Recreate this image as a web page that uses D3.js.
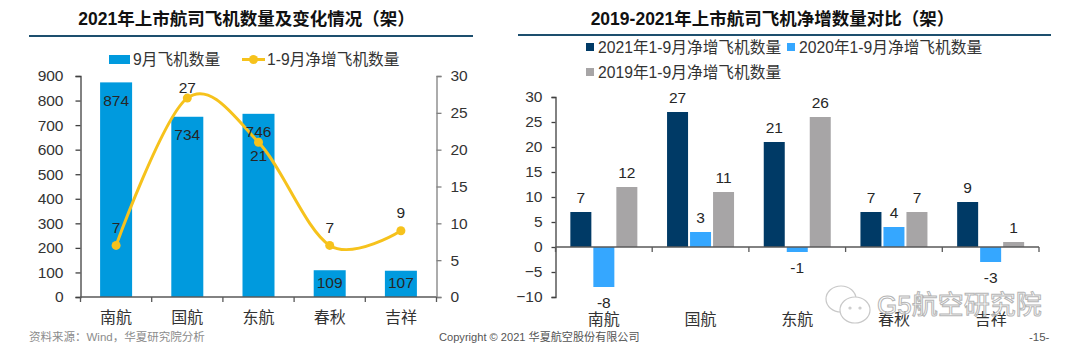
<!DOCTYPE html>
<meta charset="utf-8">
<html>
<head>
<style>
    body { margin: 0; background: #fff; }
    svg { display: block; }
    text { font-family: "Liberation Sans", "Noto Sans CJK SC", sans-serif; fill: #262626; }
    .title { font-size: 17.5px; font-weight: bold; fill: #111; text-anchor: middle; }
    .rule { stroke: #1d4f6e; stroke-width: 2; }
    .legend { font-size: 15.7px; fill: #333; }
    .tick text { font-size: 15.5px; fill: #333; }
    .cat .tick text { font-size: 16px; }
    .val { font-size: 15.5px; text-anchor: middle; dominant-baseline: central; }
    .foot { font-size: 11.5px; fill: #8c8c8c; dominant-baseline: central; }
</style>
</head>
<body>
<script src="https://d3js.org/d3.v7.min.js"></script>
<script>
    // data
    const airlines = ["南航", "国航", "东航", "春秋", "吉祥"];
    const fleetSep = [874, 734, 746, 109, 107];
    const netAdd = [7, 27, 21, 7, 9];
    const net2021 = [7, 27, 21, 7, 9];
    const net2020 = [-8, 3, -1, 4, -3];
    const net2019 = [12, 11, 26, 7, 1];
    const fleetTicks = [0, 100, 200, 300, 400, 500, 600, 700, 800, 900];
    const netTicks = [0, 5, 10, 15, 20, 25, 30];
    const compareTicks = [-10, -5, 0, 5, 10, 15, 20, 25, 30];

    const svg = d3.select("body").append("svg")
        .attr("width", 1080)
        .attr("height", 353);

    const blue = "#009ade", yellow = "#f6c21c", navy = "#003a66", sky = "#35a7ff", grey = "#a7a5a6";

    // titles and rules
    svg.append("text").attr("class", "title").attr("x", 246.5).attr("y", 25)
        .text("2021年上市航司飞机数量及变化情况（架）");
    svg.append("text").attr("class", "title").attr("x", 772.5).attr("y", 25)
        .text("2019-2021年上市航司飞机净增数量对比（架）");
    svg.append("line").attr("class", "rule").attr("x1", 29).attr("x2", 473).attr("y1", 36).attr("y2", 36);
    svg.append("line").attr("class", "rule").attr("x1", 518).attr("x2", 1051).attr("y1", 35).attr("y2", 35);

    // --- left chart ---
    const x1 = d3.scaleBand().domain(airlines).range([80.5, 436.5]);
    const yFleet = d3.scaleLinear().domain([0, 900]).range([297, 76]);
    const yNet = d3.scaleLinear().domain([0, 30]).range([297, 76]);
    const cx1 = d => x1(d) + x1.bandwidth() / 2;

    svg.append("g").selectAll("rect")
        .data(airlines)
        .join("rect")
        .attr("x", d => cx1(d) - 16)
        .attr("width", 32)
        .attr("y", (d, i) => yFleet(fleetSep[i]))
        .attr("height", (d, i) => yFleet(0) - yFleet(fleetSep[i]))
        .attr("fill", blue);

    function drawAxisY(axis, x, color) {
        const g = svg.append("g").attr("transform", "translate(" + x + ",0)").call(axis);
        g.selectAll("path,line").attr("stroke", color).attr("stroke-width", 1.3);
        return g;
    }
    drawAxisY(d3.axisLeft(yFleet).tickValues(fleetTicks).tickSize(5).tickPadding(12), 80.5, "#404040");
    drawAxisY(d3.axisRight(yNet).tickValues(netTicks).tickSize(5).tickPadding(9), 436.5, "#808080");

    // category axis, ticks sit between the bands
    function drawAxisX(xs, yAxis, yLabels) {
        const g = svg.append("g").attr("transform", "translate(0," + yAxis + ")");
        g.append("line")
            .attr("x1", xs.range()[0]).attr("x2", xs.range()[1])
            .attr("stroke", "#595959").attr("stroke-width", 1.3);
        const edges = airlines.map(d => xs(d)).concat(xs.range()[1]);
        g.selectAll(".edge").data(edges).join("line")
            .attr("class", "edge")
            .attr("x1", d => d).attr("x2", d => d)
            .attr("y1", 0).attr("y2", 5)
            .attr("stroke", "#595959").attr("stroke-width", 1.3);
        const labels = svg.append("g")
            .attr("class", "cat")
            .attr("transform", "translate(0," + yLabels + ")")
            .call(d3.axisBottom(xs).tickSize(0).tickPadding(0));
        labels.select(".domain").remove();
    }
    drawAxisX(x1, 297, 312);

    const netLine = d3.line()
        .x((d, i) => cx1(airlines[i]))
        .y(d => yNet(d))
        .curve(d3.curveCardinal.tension(0));
    svg.append("path")
        .attr("d", netLine(netAdd))
        .attr("fill", "none")
        .attr("stroke", yellow)
        .attr("stroke-width", 3);
    svg.append("g").selectAll("circle")
        .data(netAdd)
        .join("circle")
        .attr("cx", (d, i) => cx1(airlines[i]))
        .attr("cy", d => yNet(d))
        .attr("r", 4.5)
        .attr("fill", yellow);

    // bar labels inside the end of the bar
    svg.append("g").selectAll("text")
        .data(fleetSep)
        .join("text")
        .attr("class", "val")
        .attr("x", (d, i) => cx1(airlines[i]))
        .attr("y", d => Math.min(yFleet(d) + 18, yFleet(0) - 15))
        .text(d => d);
    // line labels above the marker, 国航 sits closer and 东航 goes below
    svg.append("g").selectAll("text")
        .data(netAdd)
        .join("text")
        .attr("class", "val")
        .attr("x", (d, i) => cx1(airlines[i]))
        .attr("y", (d, i) => {
            if (airlines[i] === "东航") return yNet(d) + 13;
            if (airlines[i] === "国航") return yNet(d) - 11;
            return yNet(d) - 18;
        })
        .text(d => d);

    // left legend
    svg.append("rect").attr("x", 109).attr("y", 55).attr("width", 21).attr("height", 9).attr("fill", blue);
    svg.append("text").attr("class", "legend").attr("x", 133).attr("y", 64.5).text("9月飞机数量");
    svg.append("line").attr("x1", 242).attr("x2", 265).attr("y1", 59.5).attr("y2", 59.5)
        .attr("stroke", yellow).attr("stroke-width", 3);
    svg.append("circle").attr("cx", 253.5).attr("cy", 59.5).attr("r", 4.5).attr("fill", yellow);
    svg.append("text").attr("class", "legend").attr("x", 267).attr("y", 64.5).text("1-9月净增飞机数量");

    // --- right chart ---
    const x2 = d3.scaleBand().domain(airlines).range([555.5, 1039]);
    const yCompare = d3.scaleLinear().domain([-10, 30]).range([297, 97]);
    const seriesNames = ["2021年1-9月净增飞机数量", "2020年1-9月净增飞机数量", "2019年1-9月净增飞机数量"];
    const seriesValues = [net2021, net2020, net2019];
    const seriesColors = [navy, sky, grey];
    const group = d3.scaleBand().domain(seriesNames)
        .range([-34.5, 34.5]);

    seriesNames.forEach((name, s) => {
        const cx = d => x2(d) + x2.bandwidth() / 2 + group(name) + group.bandwidth() / 2;
        svg.append("g").selectAll("rect")
            .data(seriesValues[s])
            .join("rect")
            .attr("x", (d, i) => cx(airlines[i]) - 10.5)
            .attr("width", 21)
            .attr("y", d => yCompare(Math.max(d, 0)))
            .attr("height", d => Math.abs(yCompare(d) - yCompare(0)))
            .attr("fill", seriesColors[s]);
        svg.append("g").selectAll("text")
            .data(seriesValues[s])
            .join("text")
            .attr("class", "val")
            .attr("x", (d, i) => cx(airlines[i]))
            .attr("y", d => d < 0 ? yCompare(d) + 15.5 : yCompare(d) - 15)
            .text(d => d);
    });

    drawAxisY(d3.axisLeft(yCompare).tickValues(compareTicks).tickSize(4).tickPadding(9), 555.5, "#404040");
    drawAxisX(x2, yCompare(0), 314);

    // right legend
    const legendX = [586, 787, 586], legendY = [47, 47, 72];
    seriesNames.forEach((name, s) => {
        svg.append("rect").attr("x", legendX[s]).attr("y", legendY[s] - 4)
            .attr("width", 8).attr("height", 8).attr("fill", seriesColors[s]);
        svg.append("text").attr("class", "legend")
            .attr("x", legendX[s] + 12).attr("y", legendY[s] + 5.5).text(name);
    });

    // footer
    svg.append("text").attr("class", "foot").attr("x", 29).attr("y", 337).text("资料来源：Wind，华夏研究院分析");
    svg.append("text").attr("class", "foot").attr("x", 439).attr("y", 337).style("fill", "#555").style("font-size", "11.1px").text("Copyright © 2021 华夏航空股份有限公司");
    svg.append("text").attr("class", "foot").attr("x", 1029).attr("y", 337).style("fill", "#555").text("-15-");

    // watermark
    const mark = svg.append("g").attr("fill", "#fff").attr("stroke", "#c8c8c8").attr("stroke-width", 1.2);
    mark.append("ellipse").attr("cx", 841).attr("cy", 299).attr("rx", 15).attr("ry", 13);
    mark.append("ellipse").attr("cx", 855).attr("cy", 310).attr("rx", 15).attr("ry", 13);
    mark.append("circle").attr("cx", 850).attr("cy", 308).attr("r", 1);
    mark.append("circle").attr("cx", 860).attr("cy", 308).attr("r", 1);
    svg.append("text")
        .attr("x", 877).attr("y", 314)
        .style("font-size", "26px")
        .style("fill", "#fff")
        .style("fill-opacity", 0.6)
        .style("stroke", "#b5b5b5")
        .style("stroke-width", 1)
        .text("G5航空研究院");
</script>
</body>
</html>
